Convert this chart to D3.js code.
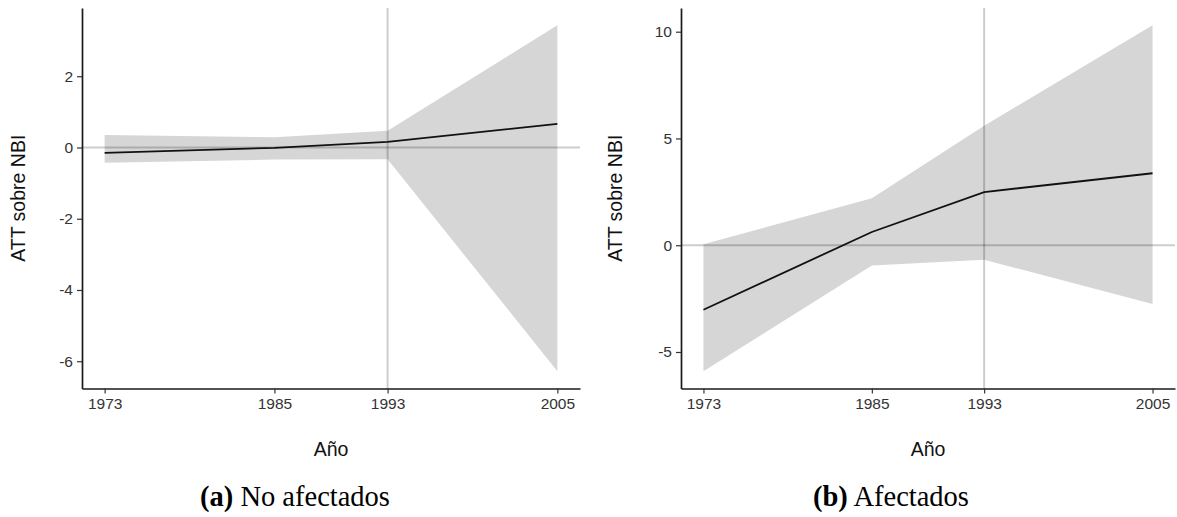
<!DOCTYPE html>
<html>
<head>
<meta charset="utf-8">
<script src="https://cdn.jsdelivr.net/npm/d3@7"></script>
<style>
  html, body { margin: 0; padding: 0; background: #fff; }
  svg { display: block; }
</style>
</head>
<body>
<svg id="chart" width="1177" height="517"></svg>
<script>
// Years of observation (shared by both panels)
const years = [1973, 1985, 1993, 2005];
const refYear = 1993;

// Panel (a): no afectados — ATT estimate and confidence band
const attA  = [-0.15, -0.01, 0.16, 0.66];
const lowA  = [-0.43, -0.34, -0.33, -6.28];
const highA = [0.35, 0.29, 0.47, 3.43];
const yTicksA = [-6, -4, -2, 0, 2];

// Panel (b): afectados — ATT estimate and confidence band
const attB  = [-3.02, 0.62, 2.49, 3.37];
const lowB  = [-5.9, -0.95, -0.68, -2.75];
const highB = [0.04, 2.2, 5.6, 10.3];
const yTicksB = [-5, 0, 5, 10];

const xTicks = [1973, 1985, 1993, 2005];
const yTitle = "ATT sobre NBI";
const xTitle = "Año";

const svg = d3.select("#chart");

// plain hyphen for negative numbers
const fmt = d => String(d);

// ggplot-style 5% expansion of a data extent
function expand(ext) {
  const r = ext[1] - ext[0];
  return [ext[0] - 0.05 * r, ext[1] + 0.05 * r];
}

function panel(opt) {
  const g = svg.append("g");
  const data = years.map((yr, i) => ({ yr, att: opt.att[i], lo: opt.low[i], hi: opt.high[i] }));

  const x = d3.scaleLinear()
    .domain(expand(d3.extent(years)))
    .range([opt.left, opt.right]);
  const y = d3.scaleLinear()
    .domain(expand([d3.min(opt.low), d3.max(opt.high)]))
    .range([opt.bottom, opt.top]);

  // confidence band
  g.append("path")
    .datum(data)
    .attr("fill", "#d6d6d6")
    .attr("d", d3.area().x(d => x(d.yr)).y0(d => y(d.lo)).y1(d => y(d.hi)));

  // reference lines: zero effect and treatment year
  g.append("line")
    .attr("x1", opt.left).attr("x2", opt.right)
    .attr("y1", y(0)).attr("y2", y(0))
    .attr("stroke", "#000").attr("stroke-opacity", 0.2).attr("stroke-width", 2);
  g.append("line")
    .attr("x1", x(refYear)).attr("x2", x(refYear))
    .attr("y1", opt.top).attr("y2", opt.bottom)
    .attr("stroke", "#000").attr("stroke-opacity", 0.2).attr("stroke-width", 2);

  // ATT estimate
  g.append("path")
    .datum(data)
    .attr("fill", "none")
    .attr("stroke", "#111")
    .attr("stroke-width", 1.8)
    .attr("d", d3.line().x(d => x(d.yr)).y(d => y(d.att)));

  // axes
  const xAxis = g.append("g")
    .attr("transform", `translate(0,${opt.bottom})`)
    .call(d3.axisBottom(x).tickValues(xTicks).tickFormat(fmt).tickSizeInner(5).tickSizeOuter(0).tickPadding(4));
  const yAxis = g.append("g")
    .attr("transform", `translate(${opt.left},0)`)
    .call(d3.axisLeft(y).tickValues(opt.yTicks).tickFormat(fmt).tickSizeInner(5).tickSizeOuter(0).tickPadding(4));

  [xAxis, yAxis].forEach(a => {
    a.select(".domain").attr("stroke", "#1a1a1a").attr("stroke-width", 1.7);
    a.selectAll(".tick line").attr("stroke", "#333").attr("stroke-width", 1.2);
    a.selectAll(".tick text")
      .attr("fill", "#333")
      .style("font-family", "'Liberation Sans', Arial, sans-serif")
      .style("font-size", "15.5px");
  });

  // axis titles
  g.append("text")
    .attr("x", (opt.left + opt.right) / 2)
    .attr("y", 456)
    .attr("text-anchor", "middle")
    .style("font-family", "'Liberation Sans', Arial, sans-serif")
    .style("font-size", "19.5px")
    .attr("fill", "#111")
    .text(xTitle);
  g.append("text")
    .attr("transform", `translate(${opt.titleX},${(opt.top + opt.bottom) / 2}) rotate(-90)`)
    .attr("text-anchor", "middle")
    .style("font-family", "'Liberation Sans', Arial, sans-serif")
    .style("font-size", "19.5px")
    .attr("fill", "#111")
    .text(yTitle);

  // sub-figure caption
  const cap = g.append("text")
    .attr("x", opt.capX)
    .attr("y", 506)
    .attr("text-anchor", "middle")
    .style("font-family", "'Liberation Serif', 'Times New Roman', serif")
    .style("font-size", "28.5px")
    .attr("fill", "#000");
  cap.append("tspan").style("font-weight", "bold").text(opt.capTag);
  cap.append("tspan").text(" " + opt.capText);
}

panel({
  att: attA, low: lowA, high: highA, yTicks: yTicksA,
  left: 82, right: 580, top: 8, bottom: 388.5,
  titleX: 25, capX: 295, capTag: "(a)", capText: "No afectados"
});

panel({
  att: attB, low: lowB, high: highB, yTicks: yTicksB,
  left: 681, right: 1175, top: 8, bottom: 388.5,
  titleX: 622, capX: 891, capTag: "(b)", capText: "Afectados"
});
</script>
</body>
</html>
